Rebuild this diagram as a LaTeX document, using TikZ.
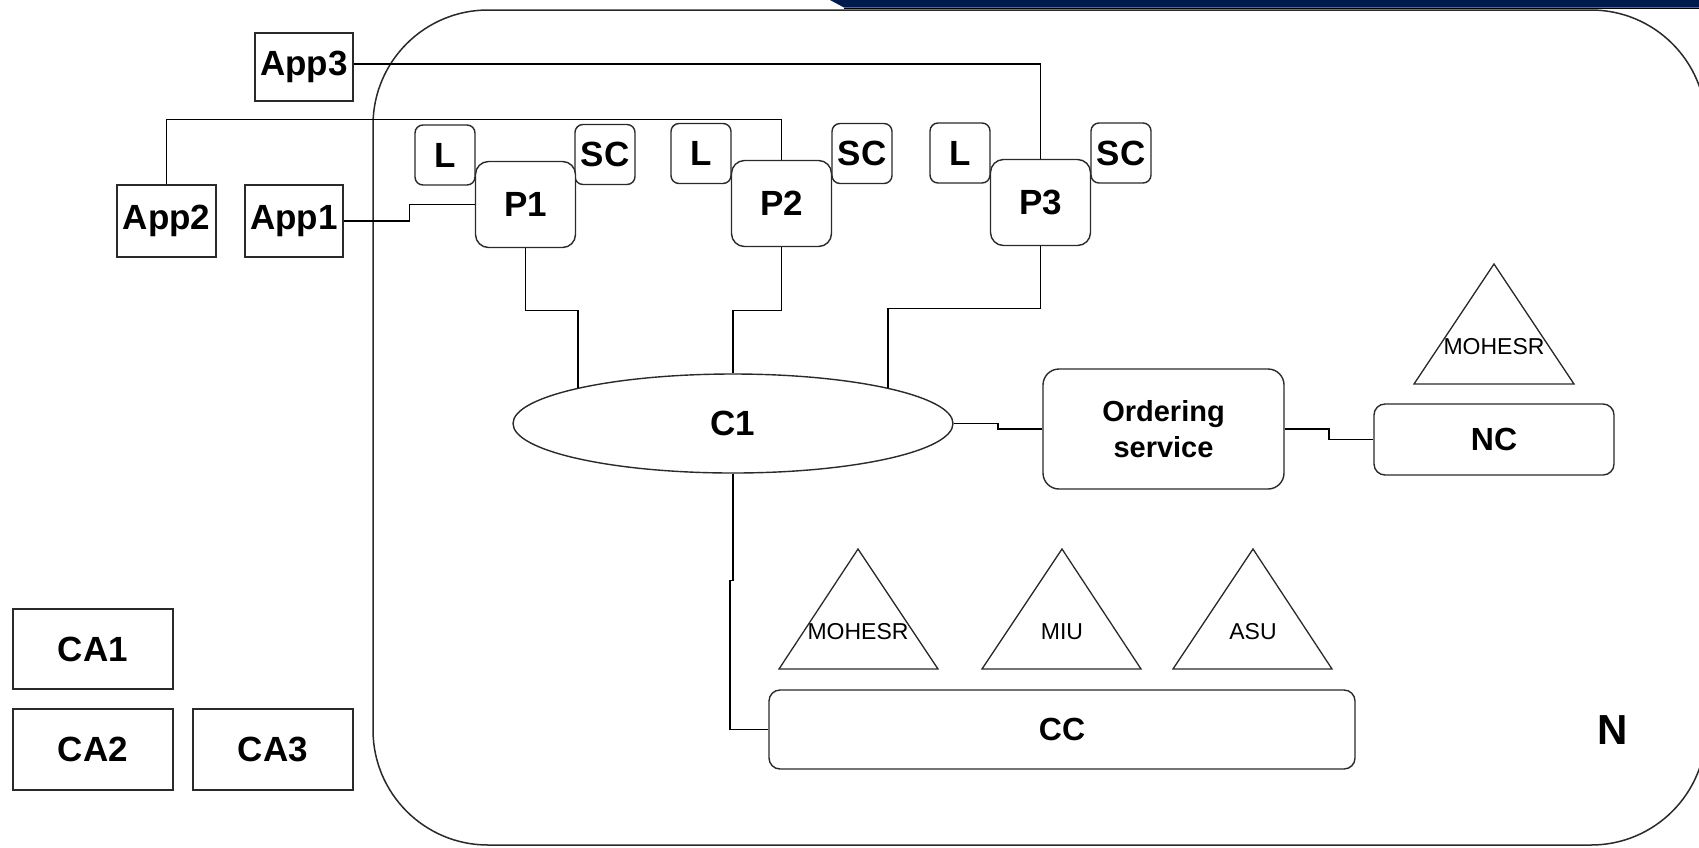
\documentclass[tikz,border=0pt]{standalone}
\usepackage{fontspec}
\setmainfont{Liberation Sans}
\usetikzlibrary{shapes.geometric,calc}
\definecolor{navybar}{HTML}{001A4C}
\definecolor{edge}{HTML}{2A2A2A}
\tikzset{
  lbl/.style={font=\bfseries\fontsize{35}{40}\selectfont},
  sqbox/.style={draw=edge, line width=1.4pt, inner sep=0pt, lbl},
  rbox/.style={sqbox, rounded corners=10pt},
  pbox/.style={rbox, rounded corners=13pt, minimum width=100pt, minimum height=86pt, fill=white},
  smallbox/.style={rbox, rounded corners=8pt, minimum width=60pt, minimum height=60pt},
  conn/.style={draw=black, line width=1.3pt},
  tri/.style={draw=edge, line width=1.3pt, line join=miter},
  trilbl/.style={inner sep=0pt, font=\fontsize{23}{26}\selectfont},
}
\begin{document}
\begin{tikzpicture}[x=1pt,y=-1pt]
\useasboundingbox (0,0) rectangle (1699,847);
\clip (0,0) rectangle (1699,847);
\fill[white] (0,0) rectangle (1699,847);

% top bar
\fill[navybar] (830,0) -- (1699,0) -- (1699,7.5) -- (844,7.5) -- cycle;
\draw[black, line width=1pt] (844,8.3) -- (1699,8.3);

% network frame
\draw[draw=edge, line width=1.5pt, rounded corners=115pt] (373,10) rectangle (1706,845);
\node[font=\bfseries\fontsize{42}{46}\selectfont, inner sep=0pt] (nlbl) at (1613,730) {N};

% apps
\node[sqbox, minimum width=98pt, minimum height=68pt] (app3) at (304,67) {App3};
\node[sqbox, minimum width=99pt, minimum height=72pt] (app2) at (166.5,221) {App2};
\node[sqbox, minimum width=98pt, minimum height=72pt] (app1) at (294,221) {App1};

% L and SC boxes
\node[smallbox] (l1) at (445,155) {L};
\node[smallbox] (sc1) at (605,154.5) {SC};
\node[smallbox] (l2) at (701,153.5) {L};
\node[smallbox] (sc2) at (862,153.5) {SC};
\node[smallbox] (l3) at (960,153) {L};
\node[smallbox] (sc3) at (1121,153) {SC};

% peers
\node[pbox] (p1) at (525.5,204.5) {P1};
\node[pbox] (p2) at (781.5,203.5) {P2};
\node[pbox] (p3) at (1040.5,202.5) {P3};

% channel
\node[ellipse, draw=edge, line width=1.4pt, minimum width=440pt, minimum height=99pt, inner sep=0pt, lbl] (c1) at (733,423.5) {C1};

% ordering, NC, CC
\node[rbox, rounded corners=16pt, minimum width=241pt, minimum height=120pt, align=center, font=\bfseries\fontsize{29}{36}\selectfont] (ord) at (1163.5,429) {Ordering\\service};
\node[rbox, rounded corners=11pt, minimum width=240pt, minimum height=71pt, font=\bfseries\fontsize{32}{35}\selectfont] (nc) at (1494,439.5) {NC};
\node[rbox, rounded corners=11pt, minimum width=586pt, minimum height=79pt, font=\bfseries\fontsize{32}{35}\selectfont] (cc) at (1062,729.5) {CC};

% triangles
\draw[tri] (1494,264) -- (1574,384) -- (1414,384) -- cycle;
\node[trilbl] (tnc) at (1494,347) {MOHESR};
\draw[tri] (858,549) -- (938,669) -- (779,669) -- cycle;
\node[trilbl] (t1) at (858,632) {MOHESR};
\draw[tri] (1062,549) -- (1141,669) -- (982,669) -- cycle;
\node[trilbl] (t2) at (1062,632) {MIU};
\draw[tri] (1253,549) -- (1332,669) -- (1173,669) -- cycle;
\node[trilbl] (t3) at (1253,632) {ASU};

% CAs
\node[sqbox, minimum width=160pt, minimum height=80pt] (ca1) at (93,649) {CA1};
\node[sqbox, minimum width=160pt, minimum height=81pt] (ca2) at (93,749.5) {CA2};
\node[sqbox, minimum width=160pt, minimum height=81pt] (ca3) at (273,749.5) {CA3};

% connectors
\draw[conn] ([yshift=3pt]app3.east) -| (p3.north);
\draw[conn] (app2.north) |- ([yshift=40pt]p2.north) -- (p2.north);
\draw[conn] (app1.east) -| ($(app1.east)!.5!(p1.west)$) |- (p1.west);
\draw[conn] (p1.south) |- ([yshift=77pt]c1.167) -- (c1.167);
\draw[conn] (p2.south) |- ([yshift=63pt]c1.north) -- (c1.north);
\draw[conn] (p3.south) |- ([yshift=79pt]c1.13) -- (c1.13);
\draw[conn] (c1.east) -| ($(c1.east)!.5!(ord.west)$) |- (ord.west);
\draw[conn] (ord.east) -| ($(ord.east)!.5!(nc.west)$) |- (nc.west);
\draw[conn] (c1.south) -- ++(0,107) -- ++(-3,0) |- (cc.west);
\end{tikzpicture}
\end{document}
